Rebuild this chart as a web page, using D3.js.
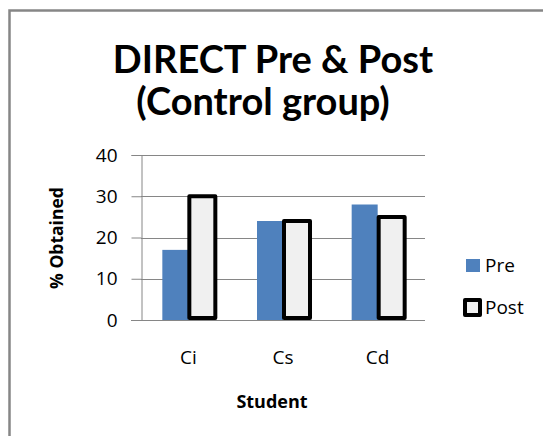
<!DOCTYPE html>
<html>
<head>
<meta charset="utf-8">
<script src="https://cdn.jsdelivr.net/npm/d3@7"></script>
<style>
  html, body { margin: 0; padding: 0; background: #fff; }
  svg { display: block; }
</style>
</head>
<body>
<svg id="chart" width="543" height="436"></svg>
<script>
// Chart data
const students = ["Ci", "Cs", "Cd"];
const preScores = [17, 24, 28];
const postScores = [30, 24, 25];
const seriesNames = ["Pre", "Post"];
const yTicks = [0, 10, 20, 30, 40];

const svg = d3.select("#chart");
const W = 543, H = 436;
const titleFont = "Lato, 'Open Sans', sans-serif";
const font = "'Open Sans', Lato, sans-serif";

// Outer chart frame (extends past the right and bottom edges)
svg.append("rect")
  .attr("x", 9.5).attr("y", 10.5)
  .attr("width", W + 20).attr("height", H + 20)
  .attr("fill", "#fff")
  .attr("stroke", "#868686").attr("stroke-width", 2.5);

const plot = { left: 141, right: 425, top: 155, bottom: 320 };

const x = d3.scaleBand()
  .domain(students)
  .range([plot.left, plot.right])
  .paddingInner(0).paddingOuter(0);

const y = d3.scaleLinear().domain([0, 40]).range([plot.bottom, plot.top]);

const barW = 26;

// Title
const title = svg.append("text")
  .attr("text-anchor", "middle")
  .attr("font-family", titleFont)
  .attr("font-weight", "bold")
  .attr("font-size", 38)
  .attr("fill", "#000");
title.append("tspan").attr("x", 273).attr("y", 73).text("DIRECT Pre & Post");
title.append("tspan").attr("x", 263).attr("y", 115).text("(Control group)");

// Gridlines
svg.append("g")
  .selectAll("line")
  .data(yTicks.filter(d => d > 0))
  .join("line")
  .attr("x1", plot.left).attr("x2", plot.right)
  .attr("y1", d => Math.round(y(d)) + 0.5).attr("y2", d => Math.round(y(d)) + 0.5)
  .attr("stroke", "#868686").attr("stroke-width", 1);

// Y axis
const yAxis = svg.append("g")
  .attr("transform", `translate(${plot.left + 0.5},0)`)
  .call(d3.axisLeft(y).tickValues(yTicks).tickSize(10).tickPadding(14));
yAxis.select(".domain").attr("stroke", "#868686");
yAxis.selectAll(".tick line").attr("stroke", "#868686");
yAxis.selectAll(".tick text")
  .attr("font-family", font).attr("font-size", 19).attr("fill", "#000");

// X axis baseline
svg.append("line")
  .attr("x1", plot.left - 10).attr("x2", plot.right)
  .attr("y1", plot.bottom + 0.5).attr("y2", plot.bottom + 0.5)
  .attr("stroke", "#868686").attr("stroke-width", 1);

// Category labels
svg.append("g")
  .selectAll("text")
  .data(students)
  .join("text")
  .attr("x", d => x(d) + x.bandwidth() / 2)
  .attr("y", 364)
  .attr("text-anchor", "middle")
  .attr("font-family", font).attr("font-size", 19).attr("fill", "#000")
  .text(d => d);

// Pre bars
svg.append("g")
  .selectAll("rect")
  .data(students.map((s, i) => ({ s, v: preScores[i] })))
  .join("rect")
  .attr("x", d => x(d.s) + x.bandwidth() / 2 - barW)
  .attr("y", d => y(d.v))
  .attr("width", barW)
  .attr("height", d => y(0) - y(d.v))
  .attr("fill", "#4f81bd");

// Post bars
svg.append("g")
  .selectAll("rect")
  .data(students.map((s, i) => ({ s, v: postScores[i] })))
  .join("rect")
  .attr("x", d => x(d.s) + x.bandwidth() / 2 + 1)
  .attr("y", d => y(d.v))
  .attr("width", barW)
  .attr("height", d => y(0) - y(d.v) - 2)
  .attr("fill", "#f0f0f0")
  .attr("stroke", "#000").attr("stroke-width", 4)
  .attr("stroke-linejoin", "round");

// Axis titles
svg.append("text")
  .attr("transform", "translate(63,238) rotate(-90)")
  .attr("text-anchor", "middle")
  .attr("font-family", font).attr("font-weight", "bold").attr("font-size", 17.5)
  .text("% Obtained");

svg.append("text")
  .attr("x", 272).attr("y", 408)
  .attr("text-anchor", "middle")
  .attr("font-family", font).attr("font-weight", "bold").attr("font-size", 18)
  .text("Student");

// Legend
const legend = svg.append("g");
legend.append("rect")
  .attr("x", 466).attr("y", 259).attr("width", 14).attr("height", 13)
  .attr("fill", "#4f81bd");
legend.append("rect")
  .attr("x", 465).attr("y", 300).attr("width", 15).attr("height", 15)
  .attr("fill", "#f0f0f0").attr("stroke", "#000").attr("stroke-width", 4)
  .attr("stroke-linejoin", "round");
legend.selectAll("text.lbl")
  .data(seriesNames)
  .join("text")
  .attr("class", "lbl")
  .attr("x", 485)
  .attr("y", (d, i) => 272 + i * 42)
  .attr("font-family", font).attr("font-size", 19).attr("fill", "#000")
  .text(d => d);
</script>
</body>
</html>
